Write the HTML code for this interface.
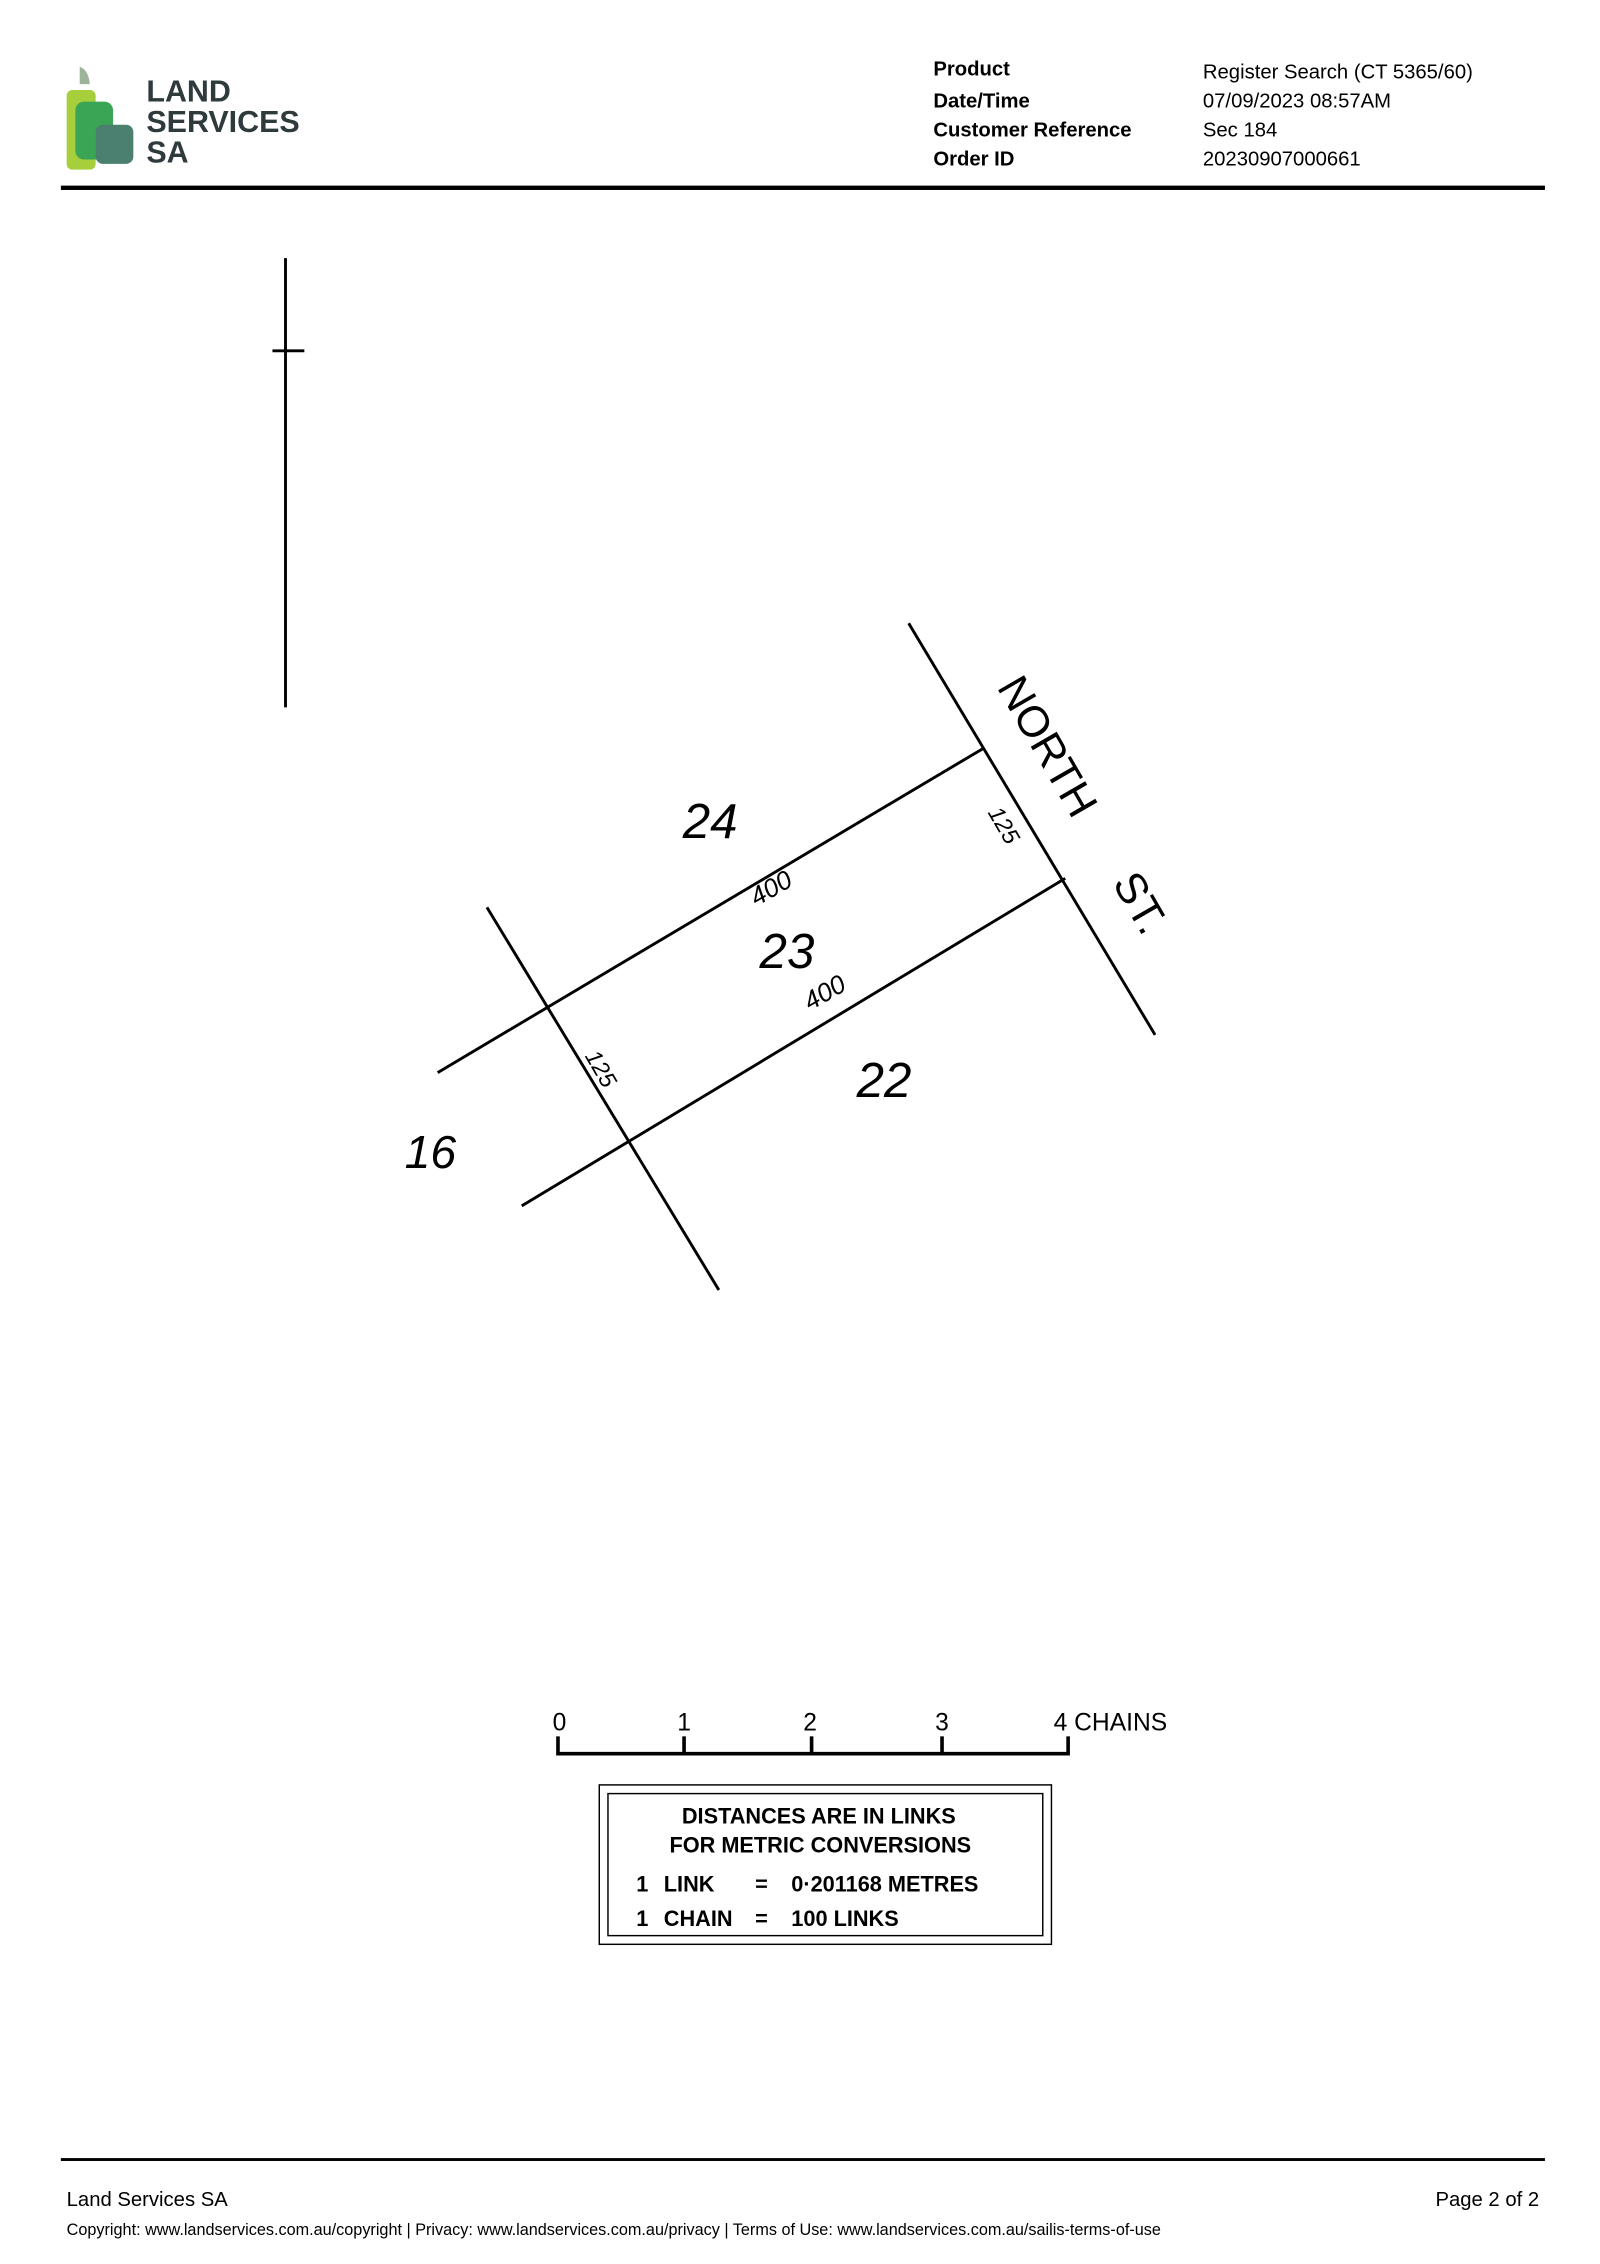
<!DOCTYPE html>
<html><head><meta charset="utf-8"><style>
html,body{margin:0;padding:0;background:#fff;}
svg{display:block;}
text{font-family:"Liberation Sans",sans-serif;}
</style></head><body>
<svg width="1600" height="2264" viewBox="0 0 1104 1562" xmlns="http://www.w3.org/2000/svg">
<rect width="1104" height="1562" fill="#fff"/>
<path d="M55 46 q6 2 7 12 l-7 0 z" fill="#9db39a"/>
<rect x="46" y="62" width="20" height="55" rx="4" fill="#a6cf3b"/>
<rect x="52" y="70" width="26" height="40" rx="6" fill="#3aa655"/>
<rect x="66" y="86" width="26" height="27" rx="5" fill="#4b7f70"/>
<text x="101" y="70" font-size="21" font-weight="bold" fill="#2e3a3c">LAND</text>
<text x="101" y="91" font-size="21" font-weight="bold" fill="#2e3a3c">SERVICES</text>
<text x="101" y="112" font-size="21" font-weight="bold" fill="#2e3a3c">SA</text>
<g font-size="14" fill="#000">
<text x="644" y="52" font-weight="bold">Product</text>
<text x="644" y="74" font-weight="bold">Date/Time</text>
<text x="644" y="94" font-weight="bold">Customer Reference</text>
<text x="644" y="114" font-weight="bold">Order ID</text>
<text x="830" y="54">Register Search (CT 5365/60)</text>
<text x="830" y="74">07/09/2023 08:57AM</text>
<text x="830" y="94">Sec 184</text>
<text x="830" y="114">20230907000661</text>
</g>
<rect x="42" y="128" width="1024" height="3" fill="#000"/>
<g stroke="#000" stroke-width="2" fill="none">
<line x1="197" y1="178" x2="197" y2="488"/>
<line x1="188" y1="242" x2="210" y2="242"/>
<line x1="627" y1="430" x2="797" y2="714"/>
<line x1="302" y1="740" x2="679" y2="516"/>
<line x1="360" y1="832" x2="735" y2="606"/>
<line x1="336" y1="626" x2="496" y2="890"/>
</g>
<g font-family="Liberation Serif" font-style="italic" fill="#000">
<text x="490" y="578" font-size="34" text-anchor="middle">24</text>
<text x="543" y="668" font-size="34" text-anchor="middle">23</text>
<text x="610" y="757" font-size="34" text-anchor="middle">22</text>
<text x="297" y="806" font-size="32" text-anchor="middle">16</text>
<text transform="translate(535,618) rotate(-30)" font-size="18" text-anchor="middle">400</text>
<text transform="translate(572,690) rotate(-30)" font-size="18" text-anchor="middle">400</text>
<text transform="translate(688,572) rotate(60)" font-size="16" text-anchor="middle">125</text>
<text transform="translate(410,740) rotate(60)" font-size="16" text-anchor="middle">125</text>
</g>
<text transform="translate(714,520) rotate(60)" font-size="30" text-anchor="middle">NORTH</text>
<text transform="translate(778,628) rotate(60)" font-size="30" text-anchor="middle">ST.</text>
<g font-size="17" fill="#000">
<text x="386" y="1194" text-anchor="middle">0</text>
<text x="472" y="1194" text-anchor="middle">1</text>
<text x="559" y="1194" text-anchor="middle">2</text>
<text x="650" y="1194" text-anchor="middle">3</text>
<text x="727" y="1194">4 CHAINS</text>
</g>
<g stroke="#000" stroke-width="2.5" fill="none">
<polyline points="385,1198 385,1210 737,1210 737,1198"/>
<line x1="472" y1="1198" x2="472" y2="1210"/>
<line x1="560" y1="1198" x2="560" y2="1210"/>
<line x1="650" y1="1198" x2="650" y2="1210"/>
</g>
<rect x="413.5" y="1231.5" width="312" height="110" fill="none" stroke="#000" stroke-width="1"/>
<rect x="419.5" y="1237.5" width="300" height="98" fill="none" stroke="#000" stroke-width="1"/>
<g font-size="15" font-weight="bold" fill="#000">
<text x="565" y="1258" text-anchor="middle">DISTANCES ARE IN LINKS</text>
<text x="566" y="1278" text-anchor="middle">FOR METRIC CONVERSIONS</text>
<text x="439" y="1305">1</text><text x="458" y="1305">LINK</text><text x="521" y="1305">=</text><text x="546" y="1305">0·201168 METRES</text>
<text x="439" y="1329">1</text><text x="458" y="1329">CHAIN</text><text x="521" y="1329">=</text><text x="546" y="1329">100 LINKS</text>
</g>
<rect x="42" y="1489" width="1024" height="2" fill="#000"/>
<text x="46" y="1522" font-size="14">Land Services SA</text>
<text x="1062" y="1522" font-size="14" text-anchor="end">Page 2 of 2</text>
<text x="46" y="1542" font-size="11.2">Copyright: www.landservices.com.au/copyright | Privacy: www.landservices.com.au/privacy | Terms of Use: www.landservices.com.au/sailis-terms-of-use</text>
</svg>
</body></html>
